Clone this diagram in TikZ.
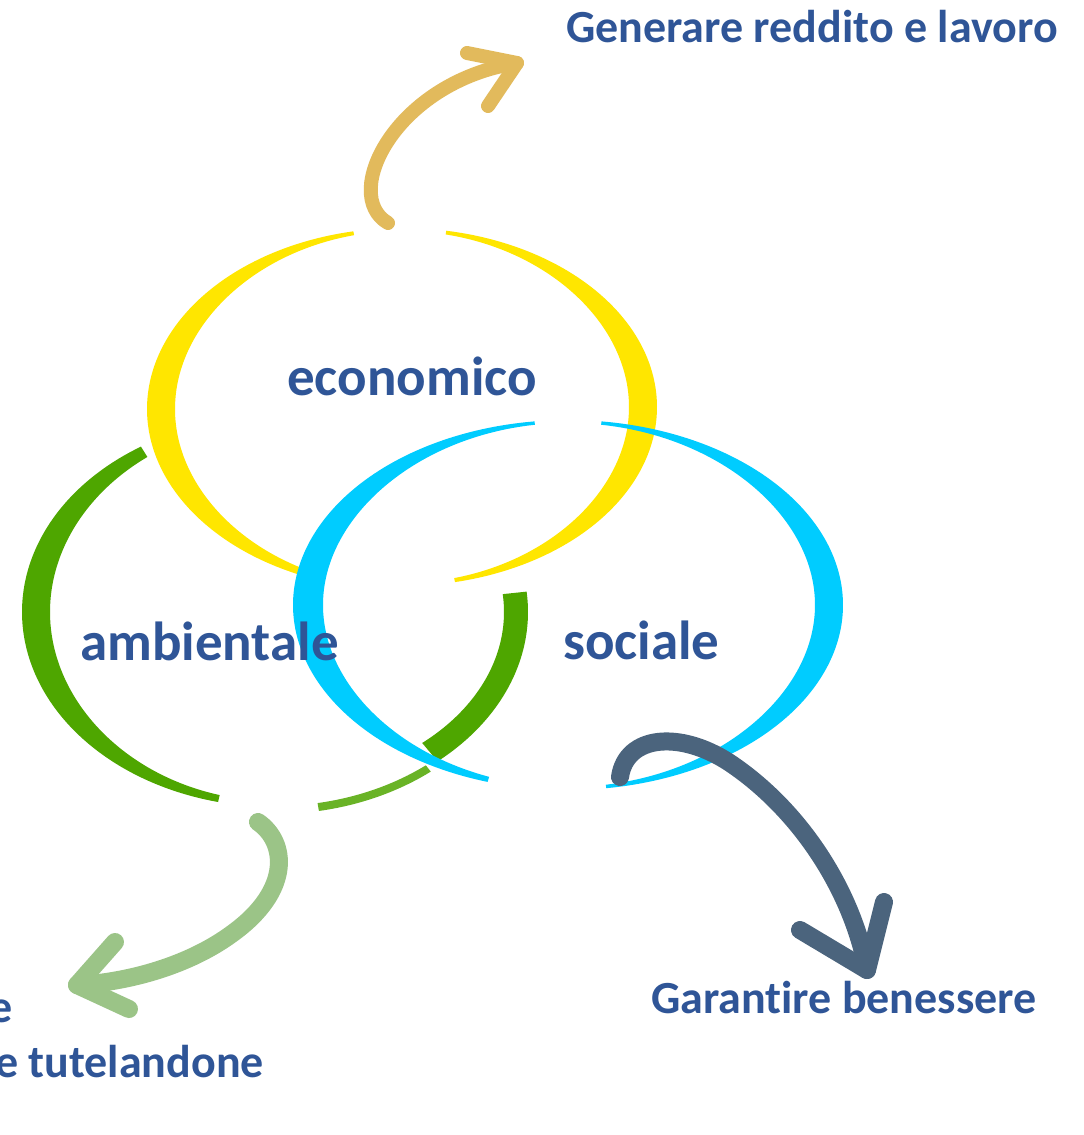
\documentclass[tikz,border=0pt]{standalone}
\usepackage{fontspec}
\setmainfont{Carlito}[Ligatures=NoCommon]
\definecolor{txtblue}{RGB}{47,85,151}
\definecolor{ringY}{RGB}{255,230,0}
\definecolor{ringC}{RGB}{0,204,255}
\definecolor{ringG}{RGB}{78,166,0}
\definecolor{arrGold}{RGB}{226,186,92}
\definecolor{arrGreen}{RGB}{155,196,135}
\definecolor{arrDark}{RGB}{75,100,125}
\newcommand{\brusharc}[9]{%
  \fill[#1] plot[domain=#6:#7,samples=90,smooth] ({#2+#4*cos(\x)},{#3-#5*sin(\x)})
   -- plot[domain=#7:#6,samples=90,smooth]
   ({#2+(#4-(#8+(#9-#8)*cos(\x)*cos(\x)))*cos(\x)},{#3-(#5-(#8+(#9-#8)*cos(\x)*cos(\x)))*sin(\x)})
   -- cycle;}
\tikzset{
  lbl/.style={text=txtblue, font=\bfseries\fontsize{55}{66}\selectfont, inner sep=0pt},
  sidelbl/.style={text=txtblue, font=\bfseries\fontsize{46}{55}\selectfont, inner sep=0pt},
  arr/.style={line width=18pt, line cap=round, line join=round}
}
\begin{document}
\begin{tikzpicture}[x=1pt,y=-1pt]
\useasboundingbox (0,0) rectangle (1084,1135);
\fill[white] (0,0) rectangle (1084,1135);
% green ring (ambientale)
\brusharc{ringG}{275}{612}{253}{195}{122}{257}{6}{28}
\brusharc{ringG}{275}{612}{253}{195}{6}{-50}{24}{24}
\brusharc{ringG!85!white}{275}{614}{253}{200}{-52}{-80}{8}{8}
% yellow ring (economico)
\brusharc{ringY}{402}{409}{255}{181}{101}{250}{3}{28}
\brusharc{ringY}{402}{407}{255}{179}{80}{-78}{3}{28}
% cyan ring (sociale)
\brusharc{ringC}{568}{605}{275}{185}{97}{253}{3}{30}
\brusharc{ringC}{568}{605}{275}{185}{83}{-82}{3}{28}
% labels
\node[lbl, anchor=base west] (eco) at (287,395) {economico};
\node[lbl, anchor=base west] (amb) at (80,660) {ambientale};
\node[lbl, anchor=base west] (soc) at (563,659) {sociale};
\node[sidelbl, anchor=base west] (top) at (566,42) {Generare reddito e lavoro};
\node[sidelbl, anchor=base west] (ben) at (651,1013) {Garantire benessere};
\node[sidelbl, anchor=base east] (ambA) at (13,1022) {e};
\node[sidelbl, anchor=base east] (ambB) at (264,1077) {e tutelandone};
% gold arrow
\coordinate (gs) at (388,223);
\coordinate (gt) at (517,63);
\coordinate (gb1) at (467,53);
\coordinate (gb2) at (488,106);
\draw[arr, arrGold, line width=14pt] (gs) .. controls (340,195) and (395,82) .. (gt);
\draw[arr, arrGold, line width=14pt] (gb1) -- (gt) -- (gb2);
% green arrow
\coordinate (ls) at (258,822);
\coordinate (lm) at (233,933);
\coordinate (lt) at (77,985);
\coordinate (lb1) at (115,942);
\coordinate (lb2) at (129,1009);
\draw[arr, arrGreen] (ls) .. controls (287,842) and (292,890) .. (lm)
   .. controls (190,965) and (130,982) .. (lt);
\draw[arr, arrGreen] (lb1) -- (lt) -- (lb2);
% dark arrow
\coordinate (ds) at (620,777);
\coordinate (dm) at (730,763);
\coordinate (dt) at (867,970);
\coordinate (db1) at (800,930);
\coordinate (db2) at (884,902);
\draw[arr, arrDark] (ds) .. controls (626,735) and (680,730) .. (dm)
   .. controls (800,810) and (852,890) .. (dt);
\draw[arr, arrDark] (db1) -- (dt) -- (db2);
\end{tikzpicture}
\end{document}
